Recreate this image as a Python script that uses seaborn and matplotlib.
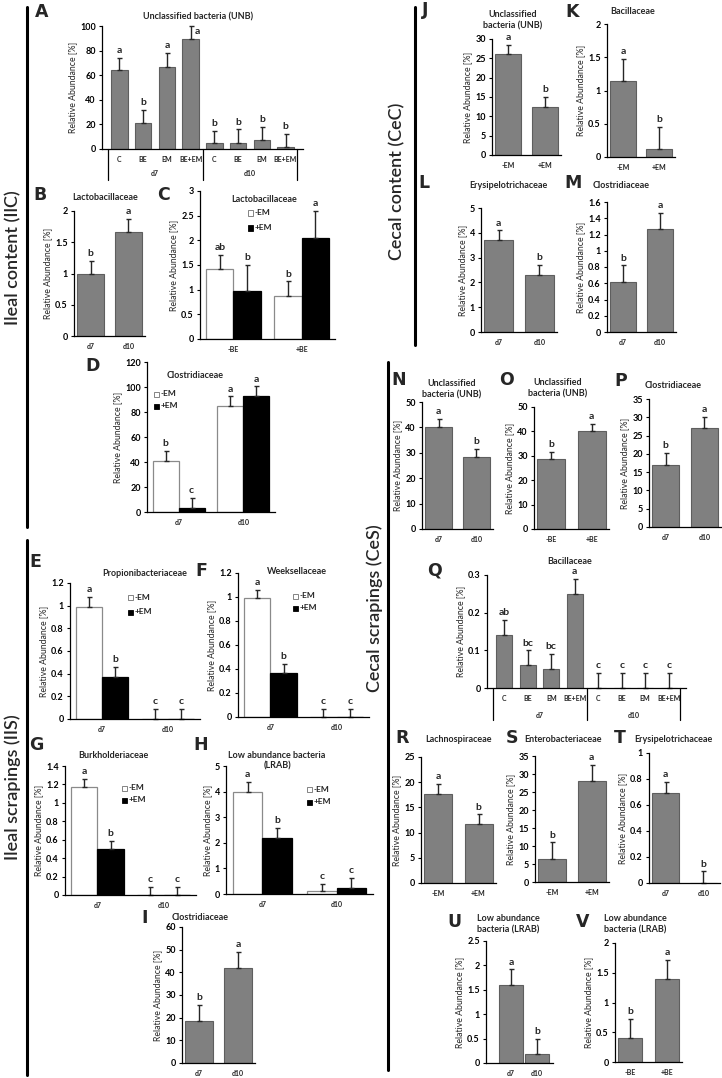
import numpy as np
import pandas as pd
import matplotlib
matplotlib.use('Agg')
import matplotlib.pyplot as plt
import seaborn as sns
from matplotlib.lines import Line2D
from matplotlib.patches import Rectangle

W, H = 722, 1078

# ---------------- data ----------------
trt4 = ['C', 'BE', 'EM', 'BE+EM']
days = ['d7', 'd10']
em = ['-EM', '+EM']
be = ['-BE', '+BE']

a_mean = [64, 21.5, 67, 89.5, 4.5, 5, 7.5, 2]
a_err = [10, 10.5, 11, 10.5, 10.5, 11, 10.5, 10.5]
a_sig = ['a', 'b', 'a', 'a', 'b', 'b', 'b', 'b']

b_mean = [1.0, 1.66]
b_err = [0.2, 0.21]
b_sig = ['b', 'a']

c_mean = [1.41, 0.97, 0.87, 2.05]
c_err = [0.30, 0.54, 0.30, 0.54]
c_sig = ['ab', 'b', 'b', 'a']

d_mean = [41, 3, 84.5, 92.5]
d_err = [8, 8, 8, 8]
d_sig = ['b', 'c', 'a', 'a']

e_mean = [0.99, 0.37, 0, 0]
e_err = [0.09, 0.09, 0.09, 0.09]
e_sig = ['a', 'b', 'c', 'c']

f_mean = [0.99, 0.37, 0, 0]
f_err = [0.07, 0.07, 0.07, 0.07]
f_sig = ['a', 'b', 'c', 'c']

g_mean = [1.17, 0.50, 0, 0]
g_err = [0.09, 0.09, 0.09, 0.09]
g_sig = ['a', 'b', 'c', 'c']

h_mean = [4.0, 2.2, 0.12, 0.25]
h_err = [0.37, 0.38, 0.26, 0.38]
h_sig = ['a', 'b', 'c', 'c']

i_mean = [18.5, 42]
i_err = [7, 7]
i_sig = ['b', 'a']

j_mean = [26, 12.5]
j_err = [2.5, 2.5]
j_sig = ['a', 'b']

k_mean = [1.15, 0.12]
k_err = [0.33, 0.33]
k_sig = ['a', 'b']

l_mean = [3.7, 2.3]
l_err = [0.4, 0.4]
l_sig = ['a', 'b']

m_mean = [0.62, 1.27]
m_err = [0.2, 0.2]
m_sig = ['b', 'a']

n_mean = [40.3, 28.3]
n_err = [3.2, 3.2]
n_sig = ['a', 'b']

o_mean = [28.5, 40]
o_err = [3, 3]
o_sig = ['b', 'a']

p_mean = [17, 27]
p_err = [3.3, 3.2]
p_sig = ['b', 'a']

q_mean = [0.14, 0.06, 0.05, 0.25, 0, 0, 0, 0]
q_err = [0.04, 0.04, 0.04, 0.04, 0.04, 0.04, 0.04, 0.04]
q_sig = ['ab', 'bc', 'bc', 'a', 'c', 'c', 'c', 'c']

r_mean = [17.7, 11.7]
r_err = [1.9, 1.9]
r_sig = ['a', 'b']

s_mean = [6.5, 28]
s_err = [4.5, 4.5]
s_sig = ['b', 'a']

t_mean = [0.69, 0]
t_err = [0.09, 0.09]
t_sig = ['a', 'b']

u_mean = [1.6, 0.18]
u_err = [0.32, 0.32]
u_sig = ['a', 'b']

v_mean = [0.41, 1.4]
v_err = [0.31, 0.31]
v_sig = ['b', 'a']

# ---------------- styling ----------------
sns.set_theme(style='white')
plt.rcParams['font.family'] = ['Lato', 'DejaVu Sans']

BAR = '#808080'
EDGE = '#5e5e5e'
FS_TICK = 6.5
FS_XT = 5
FS_TITLE = 6.5
FS_SIG = 7.5
FS_LAB = 6.3

fig = plt.figure(figsize=(W / 100, H / 100), dpi=100)


def panel_axes(x0, y0, x1, y1):
    return fig.add_axes([x0 / W, 1 - y1 / H, (x1 - x0) / W, (y1 - y0) / H])


def fig_text(x, y, s, **kw):
    kw.setdefault('ha', 'center')
    kw.setdefault('va', 'center')
    fig.text(x / W, 1 - y / H, s, **kw)


def add_err(ax, xs, ys, errs, sigs, shift=None):
    shift = shift or {}
    eb = ax.errorbar(xs, ys, yerr=[np.zeros(len(errs)), errs], fmt='none',
                     ecolor='#262626', elinewidth=1, capsize=1.8, capthick=1)
    for group in eb.lines[1:]:
        for art in group:
            art.set_clip_on(False)
    for i, (x, y, e, s) in enumerate(zip(xs, ys, errs, sigs)):
        ax.annotate(s, (x, y + e), xytext=shift.get(i, (0, 2)), textcoords='offset points',
                    ha='center', va='bottom', fontsize=FS_SIG, fontweight='bold',
                    annotation_clip=False)


def finish(ax, ymax, step):
    ticks = np.arange(0, ymax + step / 2, step)
    ax.set_ylim(0, ymax)
    ax.set_yticks(ticks)
    ax.set_yticklabels([f'{round(t, 2):g}' for t in ticks], fontsize=FS_TICK,
                       fontweight='bold')
    for lab in ax.get_xticklabels():
        lab.set_fontsize(FS_XT)
        lab.set_fontweight('bold')
    ax.tick_params(axis='y', left=True, length=2.5, width=0.8, pad=2, colors='black')
    ax.tick_params(axis='x', bottom=False, length=0, pad=5)
    sns.despine(ax=ax)
    for sp in ('left', 'bottom'):
        ax.spines[sp].set_color('black')
        ax.spines[sp].set_linewidth(0.9)
    ax.set_xlabel('')
    ax.set_ylabel('Relative Abundance [%]', fontsize=FS_LAB, labelpad=2)


def simple_panel(box, cats, mean, err, sig, ymax, step, width=0.7):
    ax = panel_axes(*box)
    df = pd.DataFrame({'cat': cats, 'val': mean})
    sns.barplot(data=df, x='cat', y='val', order=cats, color=BAR, width=width,
                saturation=1, edgecolor=EDGE, linewidth=0.8, errorbar=None, ax=ax)
    bars = ax.containers[0]
    xs = [p.get_x() + p.get_width() / 2 for p in bars]
    add_err(ax, xs, mean, err, sig)
    finish(ax, ymax, step)
    return ax


def hue_panel(box, cats, mean, err, sig, ymax, step):
    ax = panel_axes(*box)
    df = pd.DataFrame({'cat': np.repeat(cats, 2), 'hue': em * 2, 'val': mean})
    sns.barplot(data=df, x='cat', y='val', hue='hue', order=cats, hue_order=em,
                palette=['white', 'black'], saturation=1, width=0.8,
                errorbar=None, legend=False, ax=ax)
    for cont, ec in zip(ax.containers, ['#8a8a8a', 'black']):
        for p in cont:
            p.set_edgecolor(ec)
            p.set_linewidth(0.9)
    xs = []
    for c in range(len(cats)):
        for h in range(2):
            p = ax.containers[h][c]
            xs.append(p.get_x() + p.get_width() / 2)
    add_err(ax, xs, mean, err, sig)
    finish(ax, ymax, step)
    return ax


def grouped_panel(box, mean, err, sig, ymax, step, line_bottom, lab_y, shift=None):
    ax = panel_axes(*box)
    keys = [f'{d} {t}' for d in days for t in trt4]
    df = pd.DataFrame({'key': keys, 'val': mean})
    sns.barplot(data=df, x='key', y='val', order=keys, color=BAR, width=0.7,
                saturation=1, edgecolor=EDGE, linewidth=0.8, errorbar=None, ax=ax)
    bars = ax.containers[0]
    xs = [p.get_x() + p.get_width() / 2 for p in bars]
    add_err(ax, xs, mean, err, sig, shift)
    ax.set_xticks(range(len(keys)))
    ax.set_xticklabels(trt4 * 2)
    finish(ax, ymax, step)
    axh = box[3] - box[1]
    tr = ax.get_xaxis_transform()
    for x in (-0.5, 3.5, 7.5):
        ax.add_line(Line2D([x, x], [0, -(line_bottom - box[3]) / axh], transform=tr,
                           color='black', lw=0.9, clip_on=False))
    for x, d in zip((1.5, 5.5), days):
        ax.text(x, -(lab_y - box[3]) / axh, d, transform=tr, ha='center', va='center',
                fontsize=FS_XT, fontweight='bold')
    return ax


def em_legend(x, y, dy):
    for i, (lab, fc, ec) in enumerate([('-EM', 'white', '#707070'), ('+EM', 'black', 'black')]):
        yy = y + i * dy
        fig.patches.append(Rectangle((x / W, 1 - (yy + 2.5) / H), 5 / W, 5 / H,
                                     transform=fig.transFigure, facecolor=fc,
                                     edgecolor=ec, lw=0.6))
        fig_text(x + 7, yy, lab, ha='left', fontsize=6, fontweight='bold')


# ---------------- ileal content ----------------
grouped_panel((102, 26, 303, 149), a_mean, a_err, a_sig, 100, 20, 180, 174,
              shift={3: (5, -7)})
fig_text(198, 17, 'Unclassified bacteria (UNB)', fontsize=FS_TITLE, fontweight='bold')

simple_panel((74, 211, 145, 336), days, b_mean, b_err, b_sig, 2, 0.5)
fig_text(105, 198, 'Lactobacillaceae', fontsize=FS_TITLE, fontweight='bold')

hue_panel((200, 191, 335, 339), be, c_mean, c_err, c_sig, 3, 0.5)
fig_text(264, 199, 'Lactobacillaceae', fontsize=FS_TITLE, fontweight='bold')
em_legend(248, 213, 15)

hue_panel((147, 362, 275, 512), days, d_mean, d_err, d_sig, 120, 20)
fig_text(195, 375, 'Clostridiaceae', fontsize=FS_TITLE, fontweight='bold')
em_legend(154, 394, 12)

# ---------------- ileal scrapings ----------------
hue_panel((70, 583, 200, 719), days, e_mean, e_err, e_sig, 1.2, 0.2)
fig_text(145, 574, 'Propionibacteriaceae', fontsize=FS_TITLE, fontweight='bold')
em_legend(128, 597, 15)

hue_panel((238, 573, 369, 717), days, f_mean, f_err, f_sig, 1.2, 0.2)
fig_text(297, 572, 'Weeksellaceae', fontsize=FS_TITLE, fontweight='bold')
em_legend(293, 596, 12)

hue_panel((65, 766, 196, 895), days, g_mean, g_err, g_sig, 1.4, 0.2)
fig_text(113, 755, 'Burkholderiaceae', fontsize=FS_TITLE, fontweight='bold')
em_legend(122, 788, 12)

hue_panel((226, 766, 373, 894), days, h_mean, h_err, h_sig, 5, 1)
fig_text(277, 761, 'Low abundance bacteria\n(LRAB)', fontsize=FS_TITLE,
         fontweight='bold', linespacing=1.2)
em_legend(307, 789, 13)

simple_panel((182, 927, 255, 1063), days, i_mean, i_err, i_sig, 60, 10)
fig_text(200, 917, 'Clostridiaceae', fontsize=FS_TITLE, fontweight='bold')

# ---------------- cecal content ----------------
simple_panel((492, 39, 561, 155), em, j_mean, j_err, j_sig, 30, 5)
fig_text(513, 20, 'Unclassified\nbacteria (UNB)', fontsize=FS_TITLE,
         fontweight='bold', linespacing=1.3)

simple_panel((607, 24, 675, 157), em, k_mean, k_err, k_sig, 2, 0.5)
fig_text(633, 12, 'Bacillaceae', fontsize=FS_TITLE, fontweight='bold')

simple_panel((481, 208, 557, 332), days, l_mean, l_err, l_sig, 5, 1)
fig_text(508, 186, 'Erysipelotrichaceae', fontsize=FS_TITLE, fontweight='bold')

simple_panel((607, 202, 676, 332), days, m_mean, m_err, m_sig, 1.6, 0.2)
fig_text(621, 186, 'Clostridiaceae', fontsize=FS_TITLE, fontweight='bold')

# ---------------- cecal scrapings ----------------
simple_panel((422, 402, 493, 529), days, n_mean, n_err, n_sig, 50, 10)
fig_text(452, 389, 'Unclassified\nbacteria (UNB)', fontsize=FS_TITLE,
         fontweight='bold', linespacing=1.3)

simple_panel((534, 407, 609, 529), be, o_mean, o_err, o_sig, 50, 10)
fig_text(558, 388, 'Unclassified\nbacteria (UNB)', fontsize=FS_TITLE,
         fontweight='bold', linespacing=1.3)

simple_panel((649, 399, 721, 527), days, p_mean, p_err, p_sig, 35, 5)
fig_text(673, 385, 'Clostridiaceae', fontsize=FS_TITLE, fontweight='bold')

grouped_panel((487, 575, 686, 688), q_mean, q_err, q_sig, 0.3, 0.1, 720, 715)
fig_text(570, 561, 'Bacillaceae', fontsize=FS_TITLE, fontweight='bold')

simple_panel((421, 757, 496, 883), em, r_mean, r_err, r_sig, 25, 5)
fig_text(458, 739, 'Lachnospiraceae', fontsize=FS_TITLE, fontweight='bold')

simple_panel((535, 756, 609, 882), em, s_mean, s_err, s_sig, 35, 5)
fig_text(563, 739, 'Enterobacteriaceae', fontsize=FS_TITLE, fontweight='bold')

simple_panel((649, 753, 720, 883), days, t_mean, t_err, t_sig, 1, 0.2)
fig_text(673, 739, 'Erysipelotrichaceae', fontsize=FS_TITLE, fontweight='bold')

ax_u = simple_panel((486, 941, 553, 1063), days, u_mean, u_err, u_sig, 2.5, 0.5, width=0.9)
ax_u.set_xlim(-0.96, 1.62)
fig_text(508, 924, 'Low abundance\nbacteria (LRAB)', fontsize=FS_TITLE,
         fontweight='bold', linespacing=1.3)

simple_panel((615, 943, 682, 1062), be, v_mean, v_err, v_sig, 2, 0.5, width=0.65)
fig_text(635, 924, 'Low abundance\nbacteria (LRAB)', fontsize=FS_TITLE,
         fontweight='bold', linespacing=1.3)

# ---------------- panel letters ----------------
letters = {'A': (42, 12), 'B': (40, 195), 'C': (164, 195), 'D': (93, 366),
           'E': (35, 562), 'F': (201, 571), 'G': (36, 745), 'H': (201, 745),
           'I': (145, 918), 'J': (425, 10), 'K': (572, 12), 'L': (424, 183),
           'M': (573, 183), 'N': (399, 380), 'O': (507, 380), 'P': (621, 381),
           'Q': (435, 571), 'R': (402, 738), 'S': (512, 738), 'T': (620, 738),
           'U': (454, 922), 'V': (583, 922)}
for s, (x, y) in letters.items():
    fig_text(x, y, s, fontsize=12.5, fontweight='bold', family=['DejaVu Sans'])

# ---------------- section brackets ----------------
for x, y0, y1 in [(27, 7, 527), (27, 540, 1075), (415, 7, 345), (388, 362, 1070)]:
    fig.add_artist(Line2D([x / W, x / W], [1 - y0 / H, 1 - y1 / H],
                          transform=fig.transFigure, color='black', lw=2.2))

for x, y, s in [(13, 258, 'Ileal content (IlC)'), (13, 787, 'Ileal scrapings (IIS)'),
                (397, 181, 'Cecal content (CeC)'), (375, 608, 'Cecal scrapings (CeS)')]:
    fig_text(x, y, s, rotation=90, fontsize=13, fontweight='semibold')

fig.savefig('out.png', dpi=100, facecolor='white')
